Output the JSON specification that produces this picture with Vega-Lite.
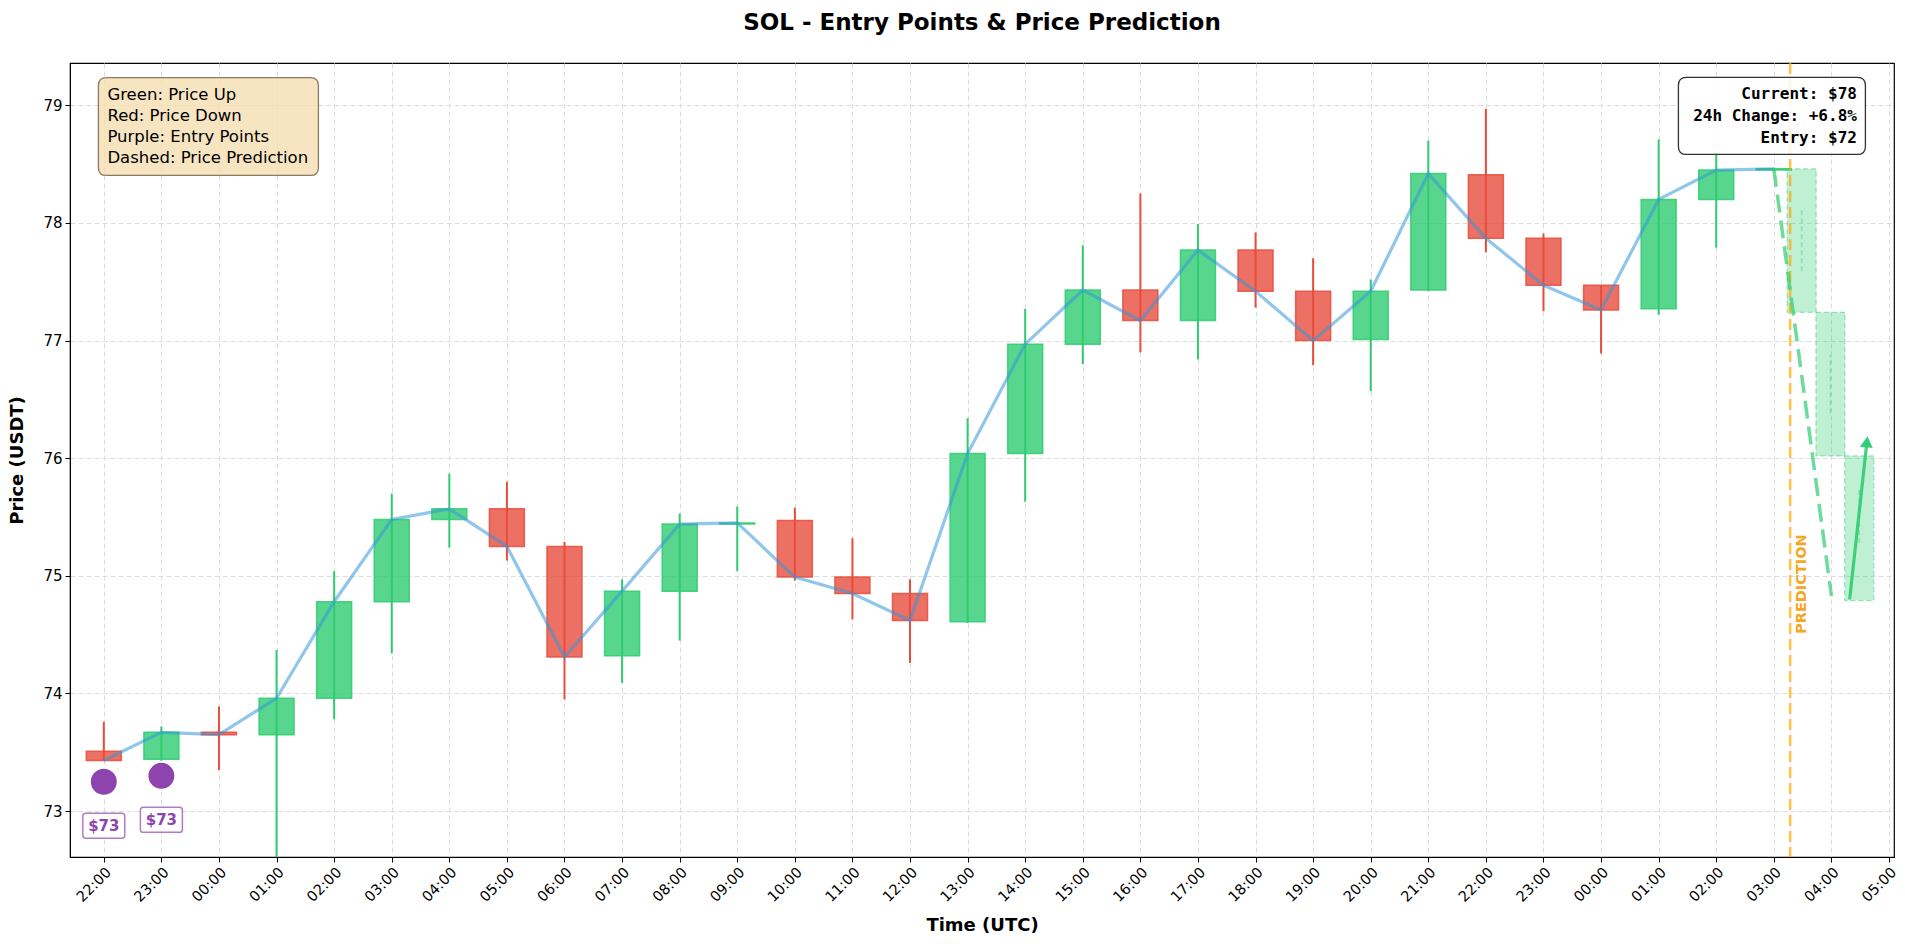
{
  "$schema": "https://vega.github.io/schema/vega-lite/v6.json",
  "description": "SOL hourly candles with entry points and a short price prediction.",
  "width": 1824,
  "height": 794,
  "autosize": {"type": "none"},
  "padding": {"left": 70, "top": 63, "right": 11, "bottom": 90},
  "background": "white",
  "title": {
    "text": "SOL - Entry Points & Price Prediction",
    "font": "DejaVu Sans",
    "fontSize": 23,
    "fontWeight": "bold",
    "color": "#000",
    "anchor": "middle",
    "offset": 27
  },
  "config": {
    "view": {"stroke": "#000", "strokeWidth": 1.2},
    "axis": {
      "labelFont": "DejaVu Sans",
      "labelFontSize": 14.5,
      "labelColor": "#000",
      "titleFont": "DejaVu Sans",
      "titleFontSize": 18,
      "titleFontWeight": "bold",
      "titleColor": "#000",
      "domainColor": "#000",
      "tickColor": "#000",
      "tickSize": 5,
      "labelPadding": 3,
      "gridColor": "#dddddd",
      "gridDash": [5, 3],
      "gridWidth": 1
    }
  },
  "datasets": {
    "candles": [
      {"time": "2025-01-01T22:00:00Z", "open": 73.51, "high": 73.76, "low": 73.43, "close": 73.43},
      {"time": "2025-01-01T23:00:00Z", "open": 73.44, "high": 73.72, "low": 73.42, "close": 73.67},
      {"time": "2025-01-02T00:00:00Z", "open": 73.67, "high": 73.89, "low": 73.35, "close": 73.65},
      {"time": "2025-01-02T01:00:00Z", "open": 73.65, "high": 74.37, "low": 72.45, "close": 73.96},
      {"time": "2025-01-02T02:00:00Z", "open": 73.96, "high": 75.04, "low": 73.78, "close": 74.78},
      {"time": "2025-01-02T03:00:00Z", "open": 74.78, "high": 75.70, "low": 74.34, "close": 75.48},
      {"time": "2025-01-02T04:00:00Z", "open": 75.48, "high": 75.87, "low": 75.24, "close": 75.57},
      {"time": "2025-01-02T05:00:00Z", "open": 75.57, "high": 75.80, "low": 75.13, "close": 75.25},
      {"time": "2025-01-02T06:00:00Z", "open": 75.25, "high": 75.29, "low": 73.95, "close": 74.31},
      {"time": "2025-01-02T07:00:00Z", "open": 74.32, "high": 74.97, "low": 74.09, "close": 74.87},
      {"time": "2025-01-02T08:00:00Z", "open": 74.87, "high": 75.53, "low": 74.45, "close": 75.44},
      {"time": "2025-01-02T09:00:00Z", "open": 75.44, "high": 75.59, "low": 75.04, "close": 75.45},
      {"time": "2025-01-02T10:00:00Z", "open": 75.47, "high": 75.58, "low": 74.96, "close": 74.99},
      {"time": "2025-01-02T11:00:00Z", "open": 74.99, "high": 75.32, "low": 74.63, "close": 74.85},
      {"time": "2025-01-02T12:00:00Z", "open": 74.85, "high": 74.97, "low": 74.26, "close": 74.62},
      {"time": "2025-01-02T13:00:00Z", "open": 74.61, "high": 76.34, "low": 74.60, "close": 76.04},
      {"time": "2025-01-02T14:00:00Z", "open": 76.04, "high": 77.27, "low": 75.63, "close": 76.97},
      {"time": "2025-01-02T15:00:00Z", "open": 76.97, "high": 77.81, "low": 76.80, "close": 77.43},
      {"time": "2025-01-02T16:00:00Z", "open": 77.43, "high": 78.25, "low": 76.90, "close": 77.17},
      {"time": "2025-01-02T17:00:00Z", "open": 77.17, "high": 77.99, "low": 76.84, "close": 77.77},
      {"time": "2025-01-02T18:00:00Z", "open": 77.77, "high": 77.92, "low": 77.28, "close": 77.42},
      {"time": "2025-01-02T19:00:00Z", "open": 77.42, "high": 77.70, "low": 76.79, "close": 77.00},
      {"time": "2025-01-02T20:00:00Z", "open": 77.01, "high": 77.52, "low": 76.57, "close": 77.42},
      {"time": "2025-01-02T21:00:00Z", "open": 77.43, "high": 78.70, "low": 77.42, "close": 78.42},
      {"time": "2025-01-02T22:00:00Z", "open": 78.41, "high": 78.97, "low": 77.75, "close": 77.87},
      {"time": "2025-01-02T23:00:00Z", "open": 77.87, "high": 77.91, "low": 77.25, "close": 77.47},
      {"time": "2025-01-03T00:00:00Z", "open": 77.47, "high": 77.47, "low": 76.89, "close": 77.26},
      {"time": "2025-01-03T01:00:00Z", "open": 77.27, "high": 78.71, "low": 77.22, "close": 78.20},
      {"time": "2025-01-03T02:00:00Z", "open": 78.20, "high": 78.58, "low": 77.79, "close": 78.45},
      {"time": "2025-01-03T03:00:00Z", "open": 78.45, "high": 78.47, "low": 78.44, "close": 78.46}
    ],
    "forecast": [
      {"time": "2025-01-03T03:29:00Z", "open": 78.46, "high": 78.12, "low": 77.59, "close": 77.24},
      {"time": "2025-01-03T03:59:00Z", "open": 77.24, "high": 76.88, "low": 76.38, "close": 76.02},
      {"time": "2025-01-03T04:29:00Z", "open": 76.02, "high": 75.73, "low": 75.28, "close": 74.79}
    ],
    "forecastPath": [
      {"time": "2025-01-03T03:00:00Z", "price": 78.46},
      {"time": "2025-01-03T04:00:00Z", "price": 74.83}
    ],
    "reboundArrow": [
      {"time": "2025-01-03T04:19:00Z", "price": 74.80},
      {"time": "2025-01-03T04:37:00Z", "price": 76.14}
    ],
    "predictionStart": [
      {"time": "2025-01-03T03:17:00Z", "price": 74.93, "note": "PREDICTION"}
    ],
    "entries": [
      {"time": "2025-01-01T22:00:00Z", "price": 73.25, "label": "$73"},
      {"time": "2025-01-01T23:00:00Z", "price": 73.30, "label": "$73"}
    ],
    "keyNote": [
      {"time": "2025-01-01T23:49:00Z", "price": 78.82, "note": "Green: Price Up\nRed: Price Down\nPurple: Entry Points\nDashed: Price Prediction"}
    ],
    "infoNote": [
      {"time": "2025-01-03T02:58:00Z", "price": 78.91, "note": "Current: $78\n24h Change: +6.8%\nEntry: $72"}
    ]
  },
  "encoding": {
    "x": {
      "field": "time",
      "type": "temporal",
      "title": "Time (UTC)",
      "scale": {"type": "utc", "domain": [1735767000000, 1735880400000], "nice": false},
      "axis": {
        "format": "%H:%M",
        "tickCount": 32,
        "labelAngle": -45,
        "labelOverlap": false,
        "labelFlush": false,
        "titlePadding": 12
      }
    }
  },
  "layer": [
    {
      "data": {"name": "candles"},
      "mark": {"type": "rule", "strokeWidth": 2, "clip": true},
      "encoding": {
        "y": {
          "field": "low",
          "type": "quantitative",
          "title": "Price (USDT)",
          "scale": {"domain": [72.61, 79.36], "nice": false, "zero": false},
          "axis": {"values": [73, 74, 75, 76, 77, 78, 79], "format": "d", "labelFontSize": 15, "titlePadding": 16}
        },
        "y2": {"field": "high"},
        "color": {"condition": {"test": "datum.close >= datum.open", "value": "#2ecc71"}, "value": "#e74c3c"}
      }
    },
    {
      "data": {"name": "candles"},
      "mark": {"type": "bar", "size": 35, "fillOpacity": 0.8, "strokeWidth": 1.5, "strokeOpacity": 0.85, "clip": true},
      "encoding": {
        "y": {"field": "open", "type": "quantitative", "title": "Price (USDT)"},
        "y2": {"field": "close"},
        "color": {"condition": {"test": "datum.close >= datum.open", "value": "#2ecc71"}, "value": "#e74c3c"},
        "stroke": {"condition": {"test": "datum.close >= datum.open", "value": "#2ecc71"}, "value": "#e74c3c"}
      }
    },
    {
      "data": {"name": "candles"},
      "mark": {"type": "line", "color": "#3498db", "opacity": 0.55, "strokeWidth": 3.2},
      "encoding": {
        "y": {"field": "close", "type": "quantitative", "title": "Price (USDT)"}
      }
    },
    {
      "data": {"name": "forecast"},
      "mark": {"type": "bar", "size": 29, "color": "#2ecc71", "fillOpacity": 0.3, "stroke": "#2ecc71", "strokeOpacity": 0.45, "strokeWidth": 1.2, "strokeDash": [5, 3]},
      "encoding": {
        "y": {"field": "open", "type": "quantitative", "title": "Price (USDT)"},
        "y2": {"field": "close"}
      }
    },
    {
      "data": {"name": "forecast"},
      "mark": {"type": "rule", "color": "#2ecc71", "opacity": 0.4, "strokeWidth": 1.6, "strokeDash": [5, 3]},
      "encoding": {
        "y": {"field": "low", "type": "quantitative", "title": "Price (USDT)"},
        "y2": {"field": "high"}
      }
    },
    {
      "data": {"name": "predictionStart"},
      "mark": {"type": "rule", "color": "#ffa500", "opacity": 0.7, "strokeWidth": 2.5, "strokeDash": [11, 5]},
      "encoding": {}
    },
    {
      "data": {"name": "forecastPath"},
      "mark": {"type": "line", "color": "#2ecc71", "opacity": 0.7, "strokeWidth": 3.5, "strokeDash": [18, 8]},
      "encoding": {
        "y": {"field": "price", "type": "quantitative", "title": "Price (USDT)"}
      }
    },
    {
      "data": {"name": "reboundArrow"},
      "mark": {"type": "line", "color": "#2ecc71", "opacity": 0.9, "strokeWidth": 3.2},
      "encoding": {
        "y": {"field": "price", "type": "quantitative", "title": "Price (USDT)"}
      }
    },
    {
      "data": {"name": "reboundArrow"},
      "transform": [{"filter": "datum.price > 75"}],
      "mark": {"type": "point", "shape": "triangle-up", "filled": true, "size": 170, "angle": 6.5, "color": "#2ecc71", "opacity": 0.95},
      "encoding": {
        "y": {"field": "price", "type": "quantitative", "title": "Price (USDT)"}
      }
    },
    {
      "data": {"name": "predictionStart"},
      "mark": {"type": "text", "angle": 270, "align": "center", "baseline": "middle", "xOffset": 12, "font": "DejaVu Sans", "fontSize": 14.5, "fontWeight": "bold", "color": "#f5a623"},
      "encoding": {
        "y": {"field": "price", "type": "quantitative", "title": "Price (USDT)"},
        "text": {"field": "note"}
      }
    },
    {
      "data": {"name": "entries"},
      "mark": {"type": "point", "filled": true, "size": 780, "color": "#8e44ad", "opacity": 1, "stroke": "white", "strokeWidth": 2},
      "encoding": {
        "y": {"field": "price", "type": "quantitative", "title": "Price (USDT)"}
      }
    },
    {
      "data": {"name": "entries"},
      "mark": {"type": "point", "filled": true, "yOffset": 44, "size": 1764, "fill": "white", "fillOpacity": 0.9, "stroke": "#8e44ad", "strokeOpacity": 0.7, "strokeWidth": 1.5, "opacity": 1, "shape": "M-0.86,-0.595H0.86Q1,-0.595 1,-0.455V0.455Q1,0.595 0.86,0.595H-0.86Q-1,0.595 -1,0.455V-0.455Q-1,-0.595 -0.86,-0.595Z"},
      "encoding": {
        "y": {"field": "price", "type": "quantitative", "title": "Price (USDT)"}
      }
    },
    {
      "data": {"name": "entries"},
      "mark": {"type": "text", "yOffset": 44, "align": "center", "baseline": "middle", "font": "DejaVu Sans", "fontSize": 15, "fontWeight": "bold", "color": "#8e44ad"},
      "encoding": {
        "y": {"field": "price", "type": "quantitative", "title": "Price (USDT)"},
        "text": {"field": "label"}
      }
    },
    {
      "data": {"name": "keyNote"},
      "mark": {"type": "point", "filled": true, "size": 48400, "fill": "#f5deb3", "fillOpacity": 0.8, "stroke": "#8a7a62", "strokeWidth": 1.3, "opacity": 1, "shape": "M-0.927,-0.445H0.927Q1,-0.445 1,-0.372V0.372Q1,0.445 0.927,0.445H-0.927Q-1,0.445 -1,0.372V-0.372Q-1,-0.445 -0.927,-0.445Z"},
      "encoding": {
        "y": {"field": "price", "type": "quantitative", "title": "Price (USDT)"}
      }
    },
    {
      "data": {"name": "keyNote"},
      "mark": {"type": "text", "align": "left", "baseline": "middle", "dx": -101, "dy": -32, "lineBreak": "\n", "lineHeight": 21.3, "font": "DejaVu Sans", "fontSize": 16.5, "color": "#000"},
      "encoding": {
        "y": {"field": "price", "type": "quantitative", "title": "Price (USDT)"},
        "text": {"field": "note"}
      }
    },
    {
      "data": {"name": "infoNote"},
      "mark": {"type": "point", "filled": true, "size": 34969, "fill": "white", "fillOpacity": 0.85, "stroke": "#333333", "strokeWidth": 1.3, "opacity": 1, "shape": "M-0.914,-0.412H0.914Q1,-0.412 1,-0.326V0.326Q1,0.412 0.914,0.412H-0.914Q-1,0.412 -1,0.326V-0.326Q-1,-0.412 -0.914,-0.412Z"},
      "encoding": {
        "y": {"field": "price", "type": "quantitative", "title": "Price (USDT)"}
      }
    },
    {
      "data": {"name": "infoNote"},
      "mark": {"type": "text", "align": "right", "baseline": "middle", "dx": 85, "dy": -22, "lineBreak": "\n", "lineHeight": 22, "font": "DejaVu Sans Mono", "fontSize": 16, "fontWeight": "bold", "color": "#000"},
      "encoding": {
        "y": {"field": "price", "type": "quantitative", "title": "Price (USDT)"},
        "text": {"field": "note"}
      }
    }
  ]
}
